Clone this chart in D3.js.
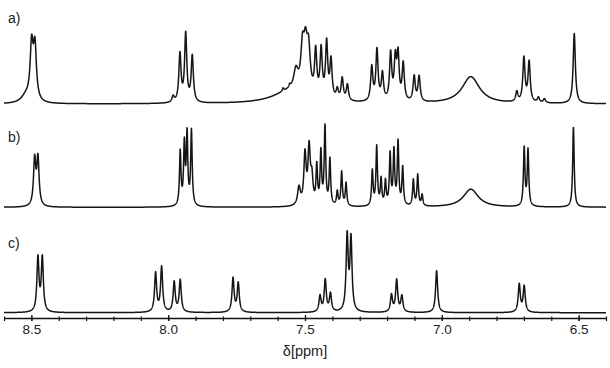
<!DOCTYPE html>
<html lang="en">
<head>
<meta charset="UTF-8">
<title>1H NMR spectra a) b) c)</title>
<script src="https://d3js.org/d3.v7.min.js"></script>
<style>
  body { margin: 0; background: #ffffff; }
  svg { display: block; }
  text { font-family: "Liberation Sans", Arial, sans-serif; fill: #222; }
</style>
</head>
<body>
<div id="chart"></div>
<script>
// peaks: [shift (ppm), intensity (a.u.), line width (ppm, optional)]
const peaksA = [
  [8.52, 7, 0.04], [8.499, 54, 0.013], [8.487, 53, 0.013],
  [7.982, 6], [7.957, 48], [7.936, 68], [7.912, 46],
  [7.555, 12, 0.15], [7.58, 3, 0.006], [7.556, 3, 0.006], [7.533, 20, 0.02],
  [7.509, 42, 0.015], [7.498, 40, 0.015], [7.487, 42, 0.015],
  [7.461, 44], [7.441, 47], [7.421, 55], [7.405, 38], [7.382, 10], [7.364, 22], [7.345, 16],
  [7.256, 34], [7.237, 51], [7.217, 27], [7.187, 47], [7.170, 40], [7.160, 44], [7.141, 37],
  [7.101, 25], [7.083, 25],
  [6.894, 27, 0.077],
  [6.726, 10], [6.700, 44], [6.681, 40], [6.647, 5], [6.625, 4],
  [6.516, 70]
];
const peaksB = [
  [8.488, 46, 0.010], [8.476, 47, 0.010],
  [7.956, 54], [7.941, 60], [7.931, 70], [7.915, 75],
  [7.522, 18, 0.012], [7.500, 50, 0.010], [7.485, 55, 0.010], [7.475, 25, 0.010],
  [7.457, 38], [7.442, 52], [7.427, 78], [7.409, 46], [7.382, 14], [7.366, 34], [7.350, 23],
  [7.254, 35], [7.238, 59], [7.222, 26], [7.206, 24], [7.189, 51], [7.175, 54], [7.160, 63],
  [7.143, 38], [7.104, 26], [7.088, 31], [7.072, 11],
  [6.894, 18, 0.066],
  [6.699, 58], [6.685, 56],
  [6.519, 80]
];
const peaksC = [
  [8.476, 54], [8.460, 54],
  [8.046, 39], [8.024, 45], [7.978, 30], [7.956, 32],
  [7.763, 34], [7.744, 29],
  [7.445, 16], [7.426, 32], [7.407, 18],
  [7.346, 75], [7.332, 72],
  [7.184, 17], [7.165, 32], [7.146, 16],
  [7.019, 42],
  [6.717, 28], [6.699, 26]
];
const defaultWidths = [0.0095, 0.0065, 0.009];
const traceLabels = ["a)", "b)", "c)"];
const majorTicks = [8.5, 8.0, 7.5, 7.0, 6.5];
const axisTitle = "δ[ppm]";

const width = 610, height = 368;
const svg = d3.select("#chart").append("svg")
  .attr("width", width)
  .attr("height", height);

const x = d3.scaleLinear().domain([8.6, 6.4]).range([4, 606]);

// spectrum = sum of lorentzian lines
const grid = d3.range(6.4, 8.6001, 0.0004);
function spectrum(peaks, w0) {
  return grid.map(s => {
    let v = 0;
    for (const p of peaks) {
      const hw = (p[2] || w0) / 2;
      const d = (s - p[0]) / hw;
      v += p[1] / (1 + d * d);
    }
    return [s, v];
  });
}

const baselines = [104, 207.3, 312.7];
const labelY = [22.5, 141.5, 247.5];
[peaksA, peaksB, peaksC].forEach((peaks, i) => {
  const y = d3.scaleLinear().domain([0, 100]).range([baselines[i], baselines[i] - 100]);
  const line = d3.line().x(d => x(d[0])).y(d => y(d[1]));
  svg.append("path")
    .datum(spectrum(peaks, defaultWidths[i]))
    .attr("fill", "none")
    .attr("stroke", "#151515")
    .attr("stroke-width", 1.5)
    .attr("stroke-linejoin", "round")
    .attr("d", line);
  svg.append("text")
    .attr("x", 8)
    .attr("y", labelY[i])
    .style("font-size", "14px")
    .text(traceLabels[i]);
});

// axis
const axisY = 318;
const minorAxis = d3.axisBottom(x)
  .tickValues(x.ticks(22))
  .tickSize(3)
  .tickSizeOuter(0)
  .tickFormat("");
const majorAxis = d3.axisBottom(x)
  .tickValues(majorTicks)
  .tickSize(3)
  .tickSizeOuter(0)
  .tickFormat(d3.format(".1f"));

svg.append("g")
  .attr("transform", `translate(0,${axisY})`)
  .call(minorAxis)
  .call(g => g.selectAll(".tick line").attr("y1", -1.5).attr("stroke", "#111").attr("stroke-width", 1.2))
  .call(g => g.select(".domain").attr("stroke", "#111").attr("stroke-width", 1.5));

svg.append("g")
  .attr("transform", `translate(0,${axisY})`)
  .call(majorAxis)
  .call(g => g.select(".domain").remove())
  .call(g => g.selectAll(".tick line").attr("y1", -3).attr("stroke", "#111").attr("stroke-width", 1.2))
  .call(g => g.selectAll(".tick text")
    .attr("fill", "#222")
    .attr("y", 6)
    .style("font-size", "13.5px")
    .style("font-family", "'Liberation Sans', Arial, sans-serif"));

svg.append("text")
  .attr("x", x(7.5))
  .attr("y", 356)
  .attr("text-anchor", "middle")
  .style("font-size", "14.5px")
  .text(axisTitle);
</script>
</body>
</html>
